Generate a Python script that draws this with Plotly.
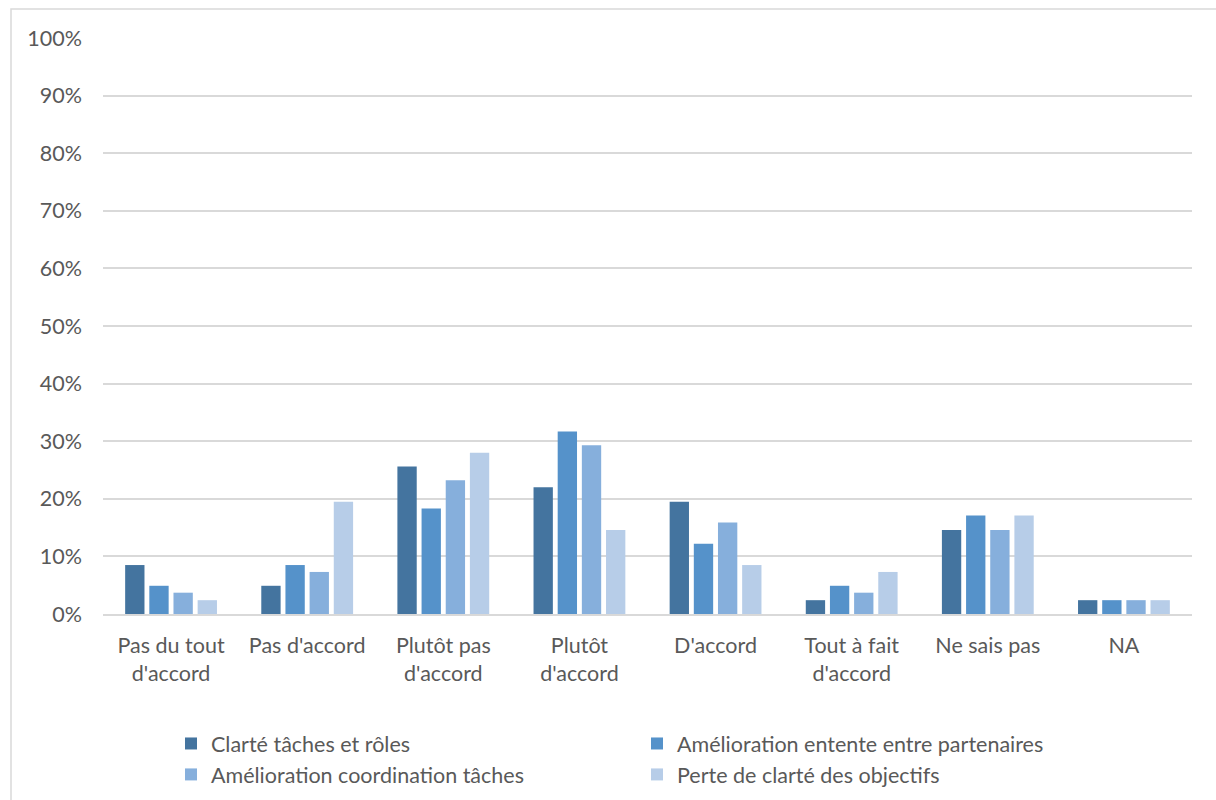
import plotly.graph_objects as go

categories = ["Pas du tout<br>d'accord", "Pas d'accord", "Plutôt pas<br>d'accord", "Plutôt<br>d'accord",
              "D'accord", "Tout à fait<br>d'accord", "Ne sais pas", "NA"]
series_names = ["Clarté tâches et rôles", "Amélioration entente entre partenaires",
                "Amélioration coordination tâches", "Perte de clarté des objectifs"]
clarte = [0.085, 0.049, 0.256, 0.220, 0.195, 0.024, 0.146, 0.024]
entente = [0.049, 0.085, 0.183, 0.317, 0.122, 0.049, 0.171, 0.024]
coordination = [0.037, 0.073, 0.232, 0.293, 0.159, 0.037, 0.146, 0.024]
perte = [0.024, 0.195, 0.280, 0.146, 0.085, 0.073, 0.171, 0.024]
colors = ["#44749F", "#5592CA", "#86AFDC", "#B7CDE8"]

fig = go.Figure()
for name, vals, col in zip(series_names, [clarte, entente, coordination, perte], colors):
    fig.add_trace(go.Bar(x=categories, y=vals, name=name, marker=dict(color=col, line=dict(width=0))))

FONT = "Lato"
FS = 21.5
W, H = 1216, 800
ml, mr, mt, mb = 103, 24, 38, 186
pw, ph = W - ml - mr, H - mt - mb

fig.update_layout(
    width=W, height=H,
    margin=dict(l=ml, r=mr, t=mt, b=mb, autoexpand=False),
    paper_bgcolor="white", plot_bgcolor="white",
    barmode="group", bargap=0.29, bargroupgap=0.2,
    font=dict(family=FONT, size=FS, color="#595959"),
    showlegend=True,
    legend=dict(orientation="h", x=(171 - ml) / pw, xanchor="left", y=-(723 - 614) / ph, yanchor="top",
                entrywidth=421, entrywidthmode="pixels", traceorder="normal",
                font=dict(family=FONT, size=FS, color="#595959"), itemclick=False,
                tracegroupgap=0, bgcolor="rgba(0,0,0,0)"),
    xaxis=dict(showgrid=False, showline=True, linecolor="#D9D9D9", linewidth=1.5,
               tickfont=dict(family=FONT, size=FS, color="#595959"), ticklabelstandoff=11,
               fixedrange=True),
    yaxis=dict(range=[0, 1.0], tickvals=[i / 10 for i in range(11)], tickformat=".0%",
               showgrid=True, gridcolor="#D9D9D9", gridwidth=1.5, zeroline=False,
               showline=False, tickfont=dict(family=FONT, size=FS, color="#595959"),
               ticklabelstandoff=20, fixedrange=True),
    shapes=[dict(type="rect", xref="paper", yref="paper",
                 x0=(11 - ml) / pw, x1=(1230 - ml) / pw,
                 y0=-(820 - 614) / ph, y1=(614 - 9) / ph,
                 line=dict(color="#D9D9D9", width=1.5), fillcolor="rgba(0,0,0,0)", layer="below")],
)

fig.write_html("out.html")
